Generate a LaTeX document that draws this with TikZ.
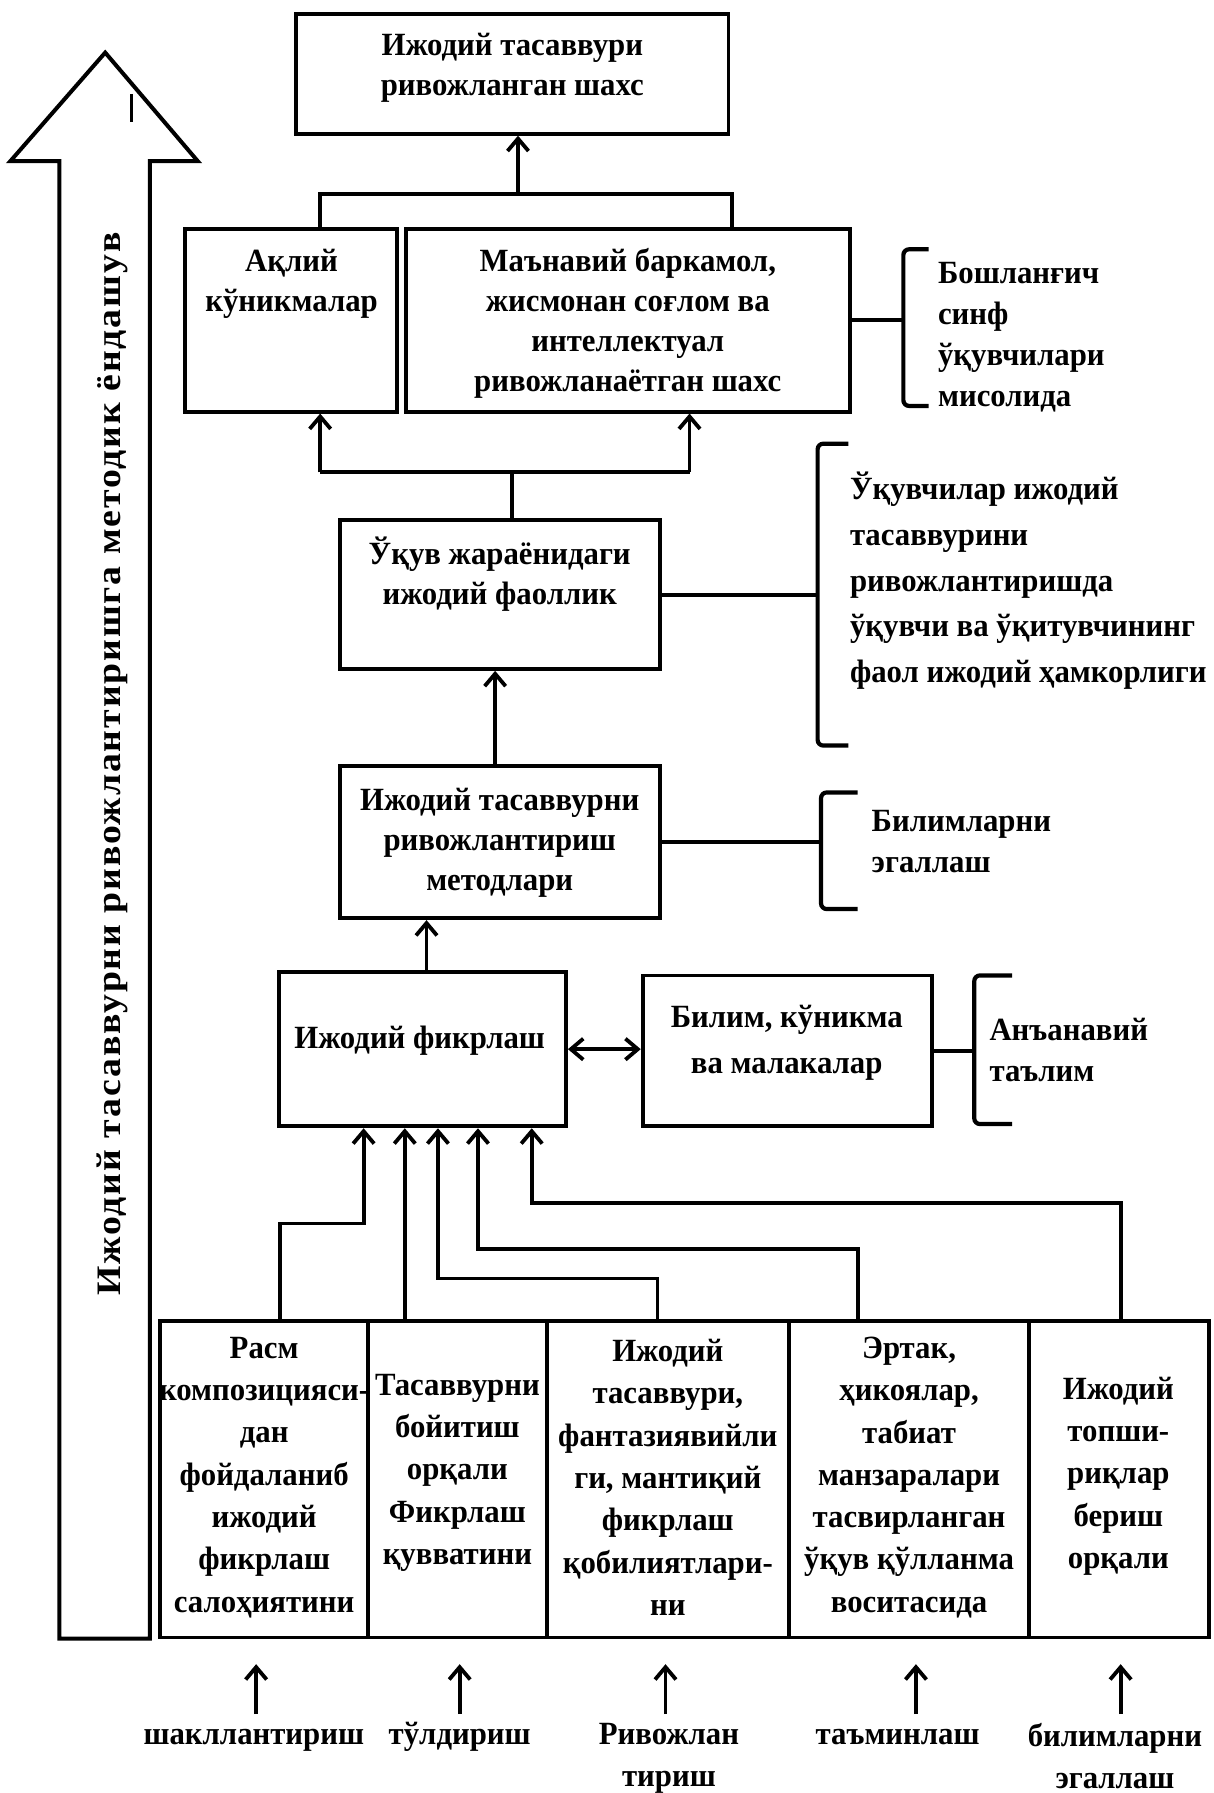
\documentclass[tikz,border=0pt]{standalone}
\usepackage{fontspec}
\setmainfont{Liberation Serif}[FakeStretch=0.95]
\newfontfamily\vfont{Liberation Serif}[FakeStretch=1.1, LetterSpace=5.5]
\usetikzlibrary{arrows.meta,fit}
\begin{document}
\begin{tikzpicture}[x=0.6pt,y=-0.6pt,
  box/.style={draw, line width=2pt, inner sep=0pt},
  txt/.style={font=\bfseries\fontsize{17}{21}\selectfont, align=center, inner sep=0pt},
  ltxt/.style={font=\bfseries\fontsize{17}{21.6}\selectfont, align=left, inner sep=0pt, anchor=west},
  ln/.style={line width=2pt},
  arr/.style={line width=2pt, -{Straight Barb[length=6.5pt,width=11pt]}},
  darr/.style={line width=2pt, {Straight Barb[length=6.5pt,width=11pt]}-{Straight Barb[length=6.5pt,width=11pt]}},
  brk/.style={line width=2.2pt, rounded corners=3pt}]
\useasboundingbox (0,0) rectangle (1061,1568);

% big arrow
\draw[line width=2.1pt, line join=miter] (52,1433) -- (52,141) -- (9,141) -- (92,46) -- (173,141) -- (131,141) -- (131,1433) -- cycle;
\draw[line width=1.6pt] (115,82) -- (115,107);
\node[rotate=90, font=\vfont\bfseries\fontsize{18}{22}\selectfont, inner sep=0pt] (vt) at (98,668) {Ижодий тасаввурни ривожлантиришга методик ёндашув};

% boxes
\node[box, fit={(259,12)(637,117)}] (top) {};
\node[box, fit={(162,200)(347,360)}] (ak) {};
\node[box, fit={(355,200)(743,360)}] (mb) {};
\node[box, fit={(297,455)(577,585)}] (uq) {};
\node[box, fit={(297,670)(577,803)}] (me) {};
\node[box, fit={(244,850)(495,985)}] (ijf) {};
\node[box, fit={(562,853)(815,985)}] (bil) {};
\node[box, fit={(140,1155)(322,1432)}] (b1) {};
\node[box, fit={(322,1155)(478,1432)}] (b2) {};
\node[box, fit={(478,1155)(690,1432)}] (b3) {};
\node[box, fit={(690,1155)(900,1432)}] (b4) {};
\node[box, fit={(900,1155)(1057,1432)}] (b5) {};

% box texts
\node[txt] (t0) at (448,59) {Ижодий тасаввури\\ривожланган шахс};
\node[txt] (tak) at (255,248) {Ақлий\\кўникмалар};
\node[txt] (tmb) at (549,283) {Маънавий баркамол,\\жисмонан соғлом ва\\интеллектуал\\ривожланаётган шахс};
\node[txt] (tuq) at (437,502) {Ўқув жараёнидаги\\ижодий фаоллик};
\node[txt] (tme) at (437,737) {Ижодий тасаввурни\\ривожлантириш\\методлари};
\node[txt] (tijf) at (367,910) {Ижодий фикрлаш};
\node[txt, font=\bfseries\fontsize{17}{24.5}\selectfont] (tbil) at (688,912) {Билим, кўникма\\ва малакалар};

\node[txt, font=\bfseries\fontsize{17}{22.2}\selectfont] (tb1) at (231,1292) {Расм\\композицияси-\\дан\\фойдаланиб\\ижодий\\фикрлаш\\салоҳиятини};
\node[txt, font=\bfseries\fontsize{17}{22.2}\selectfont] (tb2) at (400,1288) {Тасаввурни\\бойитиш\\орқали\\Фикрлаш\\қувватини};
\node[txt, font=\bfseries\fontsize{17}{22.2}\selectfont] (tb3) at (584,1292) {Ижодий\\тасаввури,\\фантазиявийли\\ги, мантиқий\\фикрлаш\\қобилиятлари-\\ни};
\node[txt, font=\bfseries\fontsize{17}{22.2}\selectfont] (tb4) at (795,1292) {Эртак,\\ҳикоялар,\\табиат\\манзаралари\\тасвирланган\\ўқув қўлланма\\воситасида};
\node[txt, font=\bfseries\fontsize{17}{22.2}\selectfont] (tb5) at (978,1291) {Ижодий\\топши-\\риқлар\\бериш\\орқали};

% side brackets
\draw[brk] (812,218) -- (790,218) -- (790,355) -- (812,355);
\draw[ln] (mb.east) -- (mb.east -| 790,0);
\node[ltxt] (s1) at (820,295) {Бошланғич\\синф\\ўқувчилари\\мисолида};

\draw[brk] (742,388) -- (715,388) -- (715,652) -- (742,652);
\draw[ln] (uq.east) -- (uq.east -| 715,0);
\node[ltxt, font=\bfseries\fontsize{17}{24}\selectfont] (s2) at (743,508) {Ўқувчилар ижодий\\тасаввурини\\ривожлантиришда\\ўқувчи ва ўқитувчининг\\фаол ижодий ҳамкорлиги};

\draw[brk] (750,693) -- (718,693) -- (718,795) -- (750,795);
\draw[ln] (me.east) -- (me.east -| 718,0);
\node[ltxt] (s3) at (762,736) {Билимларни\\эгаллаш};

\draw[brk] (885,853) -- (852,853) -- (852,983) -- (885,983);
\draw[ln] (bil.east) -- (bil.east -| 852,0);
\node[ltxt] (s4) at (865,918) {Анъанавий\\таълим};

% vertical connectors
\coordinate (bar1) at (453,170);
\draw[ln] (280,0 |- ak.north) |- (640,170) -- (640,0 |- mb.north);
\draw[arr] (bar1) -- (bar1 |- top.south);

\coordinate (bar2) at (448,413);
\draw[ln] (bar2 |- uq.north) -- (bar2);
\draw[ln] (280,413) -- (603,413);
\draw[arr] (280,413) -- (280,0 |- ak.south);
\draw[arr] (603,413) -- (603,0 |- mb.south);

\draw[arr] (433,0 |- me.north) -- (433,0 |- uq.south);
\draw[arr] (373,0 |- ijf.north) -- (373,0 |- me.south);
\draw[darr] (ijf.east) -- (ijf.east -| bil.west);

% from bottom row into Ижодий фикрлаш
\draw[arr] (245,0 |- b1.north) |- (318,1070) -- (318,0 |- ijf.south);
\draw[arr] (354,0 |- b2.north) -- (354,0 |- ijf.south);
\draw[arr] (575,0 |- b3.north) |- (383,1118) -- (383,0 |- ijf.south);
\draw[arr] (750,0 |- b4.north) |- (418,1092) -- (418,0 |- ijf.south);
\draw[arr] (980,0 |- b5.north) |- (465,1052) -- (465,0 |- ijf.south);

% bottom labels
\node[txt, anchor=base] (l1) at (222,1526) {шакллантириш};
\node[txt, anchor=base] (l2) at (402,1526) {тўлдириш};
\node[txt, anchor=north, font=\bfseries\fontsize{17}{22}\selectfont] (l3) at (585,1507) {Ривожлан\\тириш};
\node[txt, anchor=base] (l4) at (785,1526) {таъминлаш};
\node[txt, anchor=north, font=\bfseries\fontsize{17}{22}\selectfont] (l5) at (975,1507) {билимларни\\эгаллаш};

\coordinate (tail) at (0,1499);
\draw[arr, shorten >=13pt] (224,0 |- tail) -- (224,0 |- b1.south);
\draw[arr, shorten >=13pt] (402,0 |- tail) -- (402,0 |- b2.south);
\draw[arr, shorten >=13pt] (582,0 |- tail) -- (582,0 |- b3.south);
\draw[arr, shorten >=13pt] (801,0 |- tail) -- (801,0 |- b4.south);
\draw[arr, shorten >=13pt] (980,0 |- tail) -- (980,0 |- b5.south);
\end{tikzpicture}
\end{document}
